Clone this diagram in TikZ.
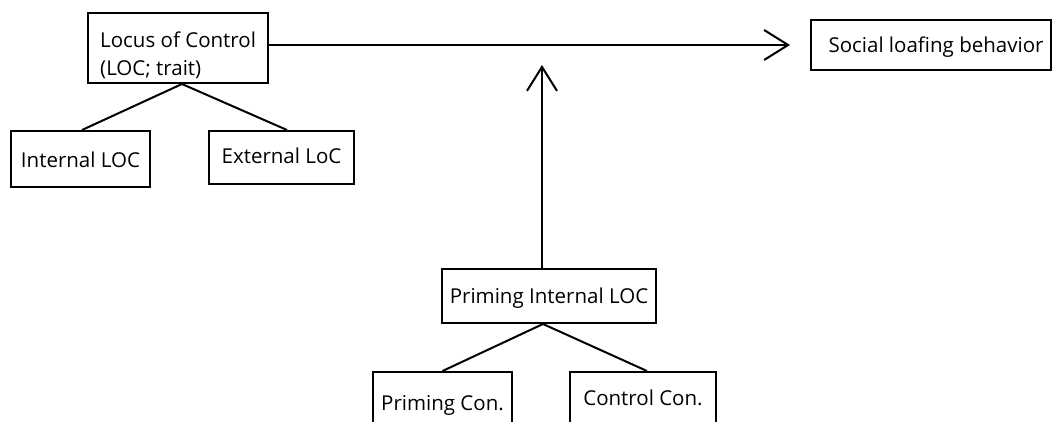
\documentclass[tikz,border=0pt]{standalone}
\usepackage{fontspec}
\setmainfont{Open Sans}
\usetikzlibrary{arrows.meta,positioning}
\begin{document}
\begin{tikzpicture}[x=1pt,y=-1pt,
  box/.style={draw,line width=2pt,inner sep=0pt},
  lbl/.style={inner sep=0pt,font=\fontsize{20.5}{28}\selectfont},
  conn/.style={line width=2pt},
  arr/.style={line width=2pt,-{Straight Barb[length=24pt,width=30pt,line width=2pt]}}]
\useasboundingbox (0,0) rectangle (1054,421);
\clip (0,0) rectangle (1054,421);
\fill[white] (0,0) rectangle (1054,421);
% boxes
\node[box,minimum width=180pt,minimum height=70pt] (locus) at (178,48) {};
\node[lbl,align=left,anchor=base west] (locust) at (100,75) {Locus of Control\\(LOC; trait)};
\node[box,minimum width=139pt,minimum height=56pt] (int) at (80.5,159) {};
\node[lbl,anchor=base] (intt) at (80.5,167) {Internal LOC};
\node[box,minimum width=145pt,minimum height=53pt] (ext) at (281.5,157.5) {};
\node[lbl,anchor=base] (extt) at (281.5,163) {External LoC};
\node[box,minimum width=240pt,minimum height=50pt] (soc) at (931,45) {};
\node[lbl,anchor=base] (soct) at (936,52) {Social loafing behavior};
\node[box,minimum width=214pt,minimum height=54pt] (pint) at (549,296) {};
\node[lbl,anchor=base] (pintt) at (549,303) {Priming Internal LOC};
\node[box,minimum width=139pt,minimum height=80pt] (pcon) at (442.5,412) {};
\node[lbl,anchor=base] (pcont) at (442.5,410) {Priming Con.};
\node[box,minimum width=146pt,minimum height=80pt] (ccon) at (643,412) {};
\node[lbl,anchor=base] (ccont) at (643,405) {Control Con.};
% connectors
\draw[conn] ([xshift=4pt]locus.south) -- ([xshift=1.5pt]int.north);
\draw[conn] ([xshift=4pt]locus.south) -- ([xshift=5.5pt]ext.north);
\draw[conn] ([xshift=-6pt]pint.south) -- (pcon.north);
\draw[conn] ([xshift=-6pt]pint.south) -- ([xshift=4pt]ccon.north);
\coordinate (htip) at (790,45);
\coordinate (vtip) at (542,65);
\draw[arr] (locus.east |- htip) -- (htip);
\draw[arr] ([xshift=-7pt]pint.north) -- (vtip);
\end{tikzpicture}
\end{document}
